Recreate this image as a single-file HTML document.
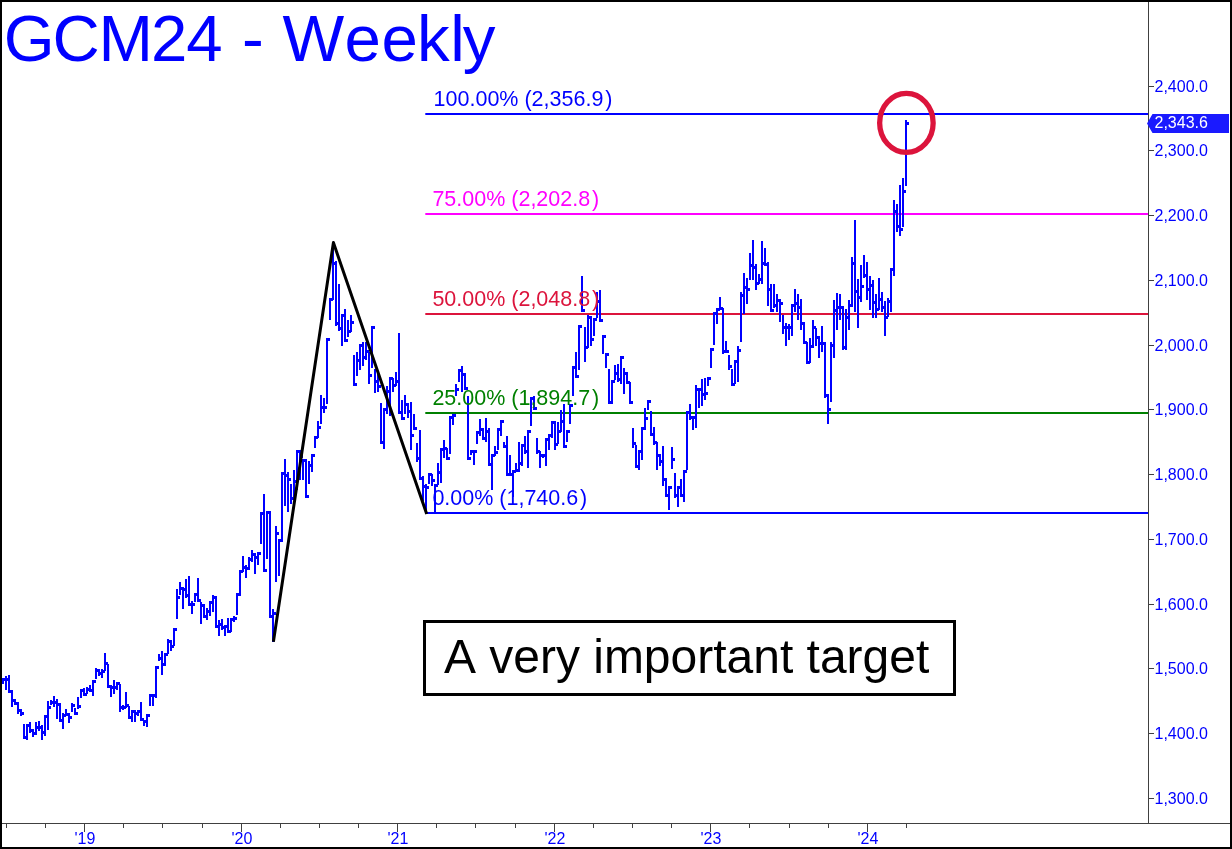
<!DOCTYPE html>
<html><head><meta charset="utf-8"><title>GCM24 - Weekly</title>
<style>
html,body{margin:0;padding:0;background:#fff;}
svg{display:block;}
text{font-family:"Liberation Sans",sans-serif;font-kerning:none;}
.t{font-size:65.4px;fill:#0000ff;}
.f{font-size:21.5px;}
.a{font-size:16px;fill:#0000ff;}
.n{font-size:48px;fill:#000;}
</style></head><body>
<svg width="1232" height="849" viewBox="0 0 1232 849">
<rect x="0" y="0" width="1232" height="849" fill="#fff"/>
<text x="3.7 52.4 98.5 150.9 186.2 222 242 262 282.4 344.4 381.4 417 450.2 462.8" y="61" class="t">GCM24 - Weekly</text>
<rect x="425.3" y="113" width="722.7" height="2" fill="#0000ff"/><rect x="425.3" y="213" width="722.7" height="2" fill="#ff00ff"/><rect x="425.3" y="313" width="722.7" height="2" fill="#dc143c"/><rect x="425.3" y="412" width="722.7" height="2" fill="#008000"/><rect x="425.3" y="512" width="722.7" height="2" fill="#0000ff"/>
<path fill="#0000ff" d="M2 678h2V684h-2zM4 678h2v3h-2zM5 676h2V690h-2zM7 678h2v3h-2zM8 675h2V693h-2zM10 690h2v3h-2zM11 690h2V707h-2zM13 699h2v3h-2zM14 699h2V705h-2zM16 702h2v3h-2zM17 702h2V714h-2zM19 709h2v3h-2zM20 709h2V716h-2zM22 712h2v3h-2zM23 724h2V739h-2zM25 736h2v3h-2zM26 724h2V740h-2zM28 724h2v3h-2zM29 722h2V733h-2zM31 729h2v3h-2zM32 729h2V737h-2zM34 732h2v3h-2zM35 722h2V735h-2zM37 726h2v3h-2zM38 721h2V731h-2zM40 726h2v3h-2zM41 725h2V740h-2zM43 731h2v3h-2zM44 715h2V736h-2zM46 715h2v3h-2zM47 701h2V730h-2zM49 706h2v3h-2zM50 700h2V705h-2zM52 701h2v3h-2zM53 696h2V707h-2zM55 701h2v3h-2zM56 699h2V719h-2zM58 703h2v3h-2zM59 703h2V722h-2zM61 719h2v3h-2zM62 713h2V729h-2zM64 714h2v3h-2zM65 709h2V716h-2zM67 713h2v3h-2zM68 713h2V723h-2zM70 716h2v3h-2zM71 703h2V712h-2zM73 704h2v3h-2zM74 708h2V715h-2zM76 712h2v3h-2zM77 697h2V709h-2zM79 705h2v3h-2zM80 689h2V698h-2zM82 689h2v3h-2zM83 688h2V696h-2zM85 693h2v3h-2zM86 687h2V694h-2zM88 688h2v3h-2zM89 685h2V692h-2zM91 689h2v3h-2zM92 680h2V696h-2zM94 680h2v3h-2zM95 668h2V679h-2zM97 669h2v3h-2zM98 669h2V676h-2zM100 672h2v3h-2zM101 669h2V678h-2zM103 670h2v3h-2zM104 653h2V671h-2zM106 662h2v3h-2zM107 664h2V688h-2zM109 685h2v3h-2zM110 685h2V697h-2zM112 686h2v3h-2zM113 680h2V694h-2zM115 686h2v3h-2zM116 682h2V690h-2zM118 682h2v3h-2zM119 684h2V712h-2zM121 706h2v3h-2zM122 705h2V710h-2zM124 706h2v3h-2zM125 692h2V708h-2zM127 704h2v3h-2zM128 706h2V719h-2zM130 716h2v3h-2zM131 710h2V722h-2zM133 710h2v3h-2zM134 710h2V722h-2zM136 712h2v3h-2zM137 710h2V716h-2zM139 710h2v3h-2zM140 702h2V721h-2zM142 718h2v3h-2zM143 720h2V726h-2zM145 720h2v3h-2zM146 714h2V727h-2zM148 714h2v3h-2zM149 694h2V706h-2zM151 694h2v3h-2zM152 694h2V706h-2zM154 694h2v3h-2zM155 666h2V698h-2zM157 666h2v3h-2zM158 654h2V661h-2zM160 657h2v3h-2zM161 651h2V675h-2zM163 663h2v3h-2zM164 653h2V666h-2zM166 653h2v3h-2zM167 639h2V654h-2zM169 640h2v3h-2zM170 640h2V651h-2zM172 645h2v3h-2zM173 628h2V646h-2zM175 628h2v3h-2zM176 589h2V619h-2zM178 596h2v3h-2zM179 582h2V595h-2zM181 587h2v3h-2zM182 587h2V609h-2zM184 588h2v3h-2zM185 579h2V598h-2zM187 594h2v3h-2zM188 576h2V606h-2zM190 603h2v3h-2zM191 601h2V614h-2zM193 603h2v3h-2zM194 593h2V602h-2zM196 593h2v3h-2zM197 578h2V602h-2zM199 599h2v3h-2zM200 602h2V624h-2zM202 604h2v3h-2zM203 604h2V618h-2zM205 615h2v3h-2zM206 608h2V620h-2zM208 610h2v3h-2zM209 601h2V616h-2zM211 601h2v3h-2zM212 595h2V612h-2zM214 596h2v3h-2zM215 596h2V628h-2zM217 625h2v3h-2zM218 620h2V636h-2zM220 623h2v3h-2zM221 619h2V630h-2zM223 626h2v3h-2zM224 625h2V636h-2zM226 625h2v3h-2zM227 618h2V633h-2zM229 630h2v3h-2zM230 618h2V632h-2zM232 618h2v3h-2zM233 616h2V622h-2zM235 617h2v3h-2zM236 593h2V615h-2zM238 593h2v3h-2zM239 570h2V596h-2zM241 570h2v3h-2zM242 556h2V572h-2zM244 566h2v3h-2zM245 565h2V578h-2zM247 567h2v3h-2zM248 557h2V570h-2zM250 558h2v3h-2zM251 550h2V562h-2zM253 553h2v3h-2zM254 553h2V574h-2zM256 556h2v3h-2zM257 552h2V565h-2zM259 552h2v3h-2zM260 512h2V544h-2zM262 512h2v3h-2zM263 494h2V572h-2zM265 569h2v3h-2zM266 511h2V559h-2zM268 511h2v3h-2zM269 511h2V618h-2zM271 615h2v3h-2zM272 609h2V642h-2zM274 612h2v3h-2zM275 526h2V582h-2zM277 532h2v3h-2zM278 539h2V576h-2zM280 539h2v3h-2zM281 472h2V542h-2zM283 472h2v3h-2zM284 459h2V506h-2zM286 474h2v3h-2zM287 472h2V512h-2zM289 478h2v3h-2zM290 484h2V504h-2zM292 497h2v3h-2zM293 470h2V500h-2zM295 480h2v3h-2zM296 450h2V490h-2zM298 450h2v3h-2zM299 450h2V480h-2zM301 455h2v3h-2zM302 459h2V480h-2zM304 459h2v3h-2zM305 459h2V498h-2zM307 495h2v3h-2zM308 461h2V484h-2zM310 464h2v3h-2zM311 454h2V472h-2zM313 454h2v3h-2zM314 436h2V448h-2zM316 436h2v3h-2zM317 421h2V438h-2zM319 426h2v3h-2zM320 395h2V424h-2zM322 406h2v3h-2zM323 398h2V413h-2zM325 406h2v3h-2zM326 338h2V404h-2zM328 338h2v3h-2zM329 298h2V320h-2zM331 298h2v3h-2zM332 242h2V300h-2zM334 262h2v3h-2zM335 261h2V326h-2zM337 322h2v3h-2zM338 284h2V331h-2zM340 327h2v3h-2zM341 314h2V346h-2zM343 314h2v3h-2zM344 309h2V342h-2zM346 339h2v3h-2zM347 320h2V337h-2zM349 330h2v3h-2zM350 315h2V332h-2zM352 321h2v3h-2zM353 355h2V386h-2zM355 383h2v3h-2zM356 352h2V376h-2zM358 359h2v3h-2zM359 344h2V370h-2zM361 344h2v3h-2zM362 342h2V366h-2zM364 356h2v3h-2zM365 342h2V360h-2zM367 350h2v3h-2zM368 352h2V384h-2zM370 374h2v3h-2zM371 326h2V368h-2zM373 326h2v3h-2zM374 369h2V393h-2zM376 380h2v3h-2zM377 372h2V392h-2zM379 385h2v3h-2zM380 403h2V444h-2zM382 441h2v3h-2zM383 408h2V449h-2zM385 408h2v3h-2zM386 386h2V414h-2zM388 390h2v3h-2zM389 377h2V416h-2zM391 377h2v3h-2zM392 378h2V392h-2zM394 384h2v3h-2zM395 372h2V386h-2zM397 380h2v3h-2zM398 333h2V414h-2zM400 411h2v3h-2zM401 400h2V420h-2zM403 417h2v3h-2zM404 395h2V414h-2zM406 403h2v3h-2zM407 403h2V418h-2zM409 410h2v3h-2zM410 402h2V450h-2zM412 434h2v3h-2zM413 414h2V430h-2zM415 427h2v3h-2zM416 443h2V462h-2zM418 457h2v3h-2zM419 430h2V480h-2zM421 477h2v3h-2zM422 476h2V501h-2zM424 485h2v3h-2zM425 484h2V513h-2zM427 486h2v3h-2zM428 473h2V484h-2zM430 473h2v3h-2zM431 474h2V486h-2zM433 479h2v3h-2zM434 484h2V513h-2zM436 484h2v3h-2zM437 463h2V485h-2zM439 471h2v3h-2zM440 448h2V483h-2zM442 448h2v3h-2zM443 440h2V458h-2zM445 447h2v3h-2zM446 448h2V460h-2zM448 457h2v3h-2zM449 416h2V454h-2zM451 416h2v3h-2zM452 414h2V425h-2zM454 414h2v3h-2zM455 384h2V396h-2zM457 388h2v3h-2zM458 369h2V382h-2zM460 369h2v3h-2zM461 366h2V392h-2zM463 373h2v3h-2zM464 373h2V390h-2zM466 387h2v3h-2zM467 396h2V460h-2zM469 457h2v3h-2zM470 450h2V455h-2zM472 450h2v3h-2zM473 450h2V465h-2zM475 450h2v3h-2zM476 431h2V444h-2zM478 431h2v3h-2zM479 419h2V436h-2zM481 428h2v3h-2zM482 428h2V440h-2zM484 437h2v3h-2zM485 418h2V442h-2zM487 430h2v3h-2zM488 428h2V466h-2zM490 463h2v3h-2zM491 454h2V490h-2zM493 454h2v3h-2zM494 446h2V456h-2zM496 451h2v3h-2zM497 428h2V450h-2zM499 428h2v3h-2zM500 420h2V436h-2zM502 420h2v3h-2zM503 442h2V448h-2zM505 445h2v3h-2zM506 436h2V476h-2zM508 473h2v3h-2zM509 455h2V476h-2zM511 473h2v3h-2zM512 470h2V497h-2zM514 470h2v3h-2zM515 463h2V472h-2zM517 469h2v3h-2zM518 442h2V472h-2zM520 462h2v3h-2zM521 444h2V466h-2zM523 444h2v3h-2zM524 436h2V454h-2zM526 450h2v3h-2zM527 430h2V468h-2zM529 430h2v3h-2zM530 397h2V426h-2zM532 397h2v3h-2zM533 396h2V410h-2zM535 407h2v3h-2zM536 438h2V454h-2zM538 450h2v3h-2zM539 451h2V468h-2zM541 454h2v3h-2zM542 454h2V458h-2zM544 454h2v3h-2zM545 438h2V466h-2zM547 438h2v3h-2zM548 434h2V450h-2zM550 434h2v3h-2zM551 421h2V438h-2zM553 421h2v3h-2zM554 421h2V450h-2zM556 443h2v3h-2zM557 422h2V444h-2zM559 430h2v3h-2zM560 410h2V432h-2zM562 420h2v3h-2zM563 404h2V448h-2zM565 445h2v3h-2zM566 430h2V442h-2zM568 430h2v3h-2zM569 404h2V424h-2zM571 404h2v3h-2zM572 366h2V396h-2zM574 366h2v3h-2zM575 352h2V378h-2zM577 375h2v3h-2zM578 325h2V370h-2zM580 325h2v3h-2zM581 276h2V312h-2zM583 309h2v3h-2zM584 327h2V362h-2zM586 346h2v3h-2zM587 315h2V348h-2zM589 316h2v3h-2zM590 316h2V346h-2zM592 338h2v3h-2zM593 318h2V336h-2zM595 318h2v3h-2zM596 292h2V318h-2zM598 300h2v3h-2zM599 290h2V322h-2zM601 319h2v3h-2zM602 335h2V354h-2zM604 335h2v3h-2zM605 353h2V368h-2zM607 353h2v3h-2zM608 369h2V404h-2zM610 401h2v3h-2zM611 380h2V404h-2zM613 380h2v3h-2zM614 365h2V380h-2zM616 372h2v3h-2zM617 364h2V382h-2zM619 378h2v3h-2zM620 356h2V384h-2zM622 356h2v3h-2zM623 368h2V394h-2zM625 372h2v3h-2zM626 372h2V384h-2zM628 381h2v3h-2zM629 382h2V404h-2zM631 401h2v3h-2zM632 428h2V448h-2zM634 442h2v3h-2zM635 445h2V468h-2zM637 465h2v3h-2zM638 450h2V470h-2zM640 450h2v3h-2zM641 427h2V460h-2zM643 427h2v3h-2zM644 408h2V430h-2zM646 417h2v3h-2zM647 400h2V410h-2zM649 400h2v3h-2zM650 411h2V436h-2zM652 433h2v3h-2zM653 427h2V445h-2zM655 441h2v3h-2zM656 442h2V470h-2zM658 454h2v3h-2zM659 454h2V466h-2zM661 460h2v3h-2zM662 446h2V486h-2zM664 478h2v3h-2zM665 478h2V497h-2zM667 494h2v3h-2zM668 486h2V510h-2zM670 486h2v3h-2zM671 447h2V469h-2zM673 458h2v3h-2zM674 473h2V498h-2zM676 494h2v3h-2zM677 486h2V507h-2zM679 486h2v3h-2zM680 479h2V497h-2zM682 494h2v3h-2zM683 470h2V502h-2zM685 470h2v3h-2zM686 411h2V470h-2zM688 411h2v3h-2zM689 404h2V420h-2zM691 416h2v3h-2zM692 416h2V430h-2zM694 416h2v3h-2zM695 385h2V428h-2zM697 388h2v3h-2zM698 388h2V408h-2zM700 388h2v3h-2zM701 379h2V406h-2zM703 393h2v3h-2zM704 378h2V400h-2zM706 392h2v3h-2zM707 377h2V386h-2zM709 377h2v3h-2zM710 348h2V368h-2zM712 348h2v3h-2zM713 312h2V345h-2zM715 312h2v3h-2zM716 308h2V324h-2zM718 308h2v3h-2zM719 297h2V310h-2zM721 307h2v3h-2zM722 308h2V354h-2zM724 350h2v3h-2zM725 341h2V353h-2zM727 350h2v3h-2zM728 355h2V370h-2zM730 365h2v3h-2zM731 369h2V386h-2zM733 383h2v3h-2zM734 360h2V384h-2zM736 360h2v3h-2zM737 346h2V382h-2zM739 349h2v3h-2zM740 292h2V342h-2zM742 294h2v3h-2zM743 273h2V314h-2zM745 286h2v3h-2zM746 278h2V304h-2zM748 288h2v3h-2zM749 253h2V280h-2zM751 264h2v3h-2zM752 240h2V280h-2zM754 266h2v3h-2zM755 264h2V290h-2zM757 282h2v3h-2zM758 274h2V284h-2zM760 278h2v3h-2zM761 241h2V284h-2zM763 262h2v3h-2zM764 248h2V266h-2zM766 263h2v3h-2zM767 262h2V306h-2zM769 288h2v3h-2zM770 284h2V312h-2zM772 309h2v3h-2zM773 284h2V308h-2zM775 304h2v3h-2zM776 294h2V312h-2zM778 299h2v3h-2zM779 299h2V322h-2zM781 302h2v3h-2zM782 315h2V334h-2zM784 326h2v3h-2zM785 323h2V346h-2zM787 326h2v3h-2zM788 324h2V340h-2zM790 326h2v3h-2zM791 304h2V336h-2zM793 304h2v3h-2zM794 289h2V312h-2zM796 302h2v3h-2zM797 294h2V320h-2zM799 306h2v3h-2zM800 299h2V330h-2zM802 322h2v3h-2zM803 322h2V344h-2zM805 341h2v3h-2zM806 342h2V364h-2zM808 361h2v3h-2zM809 338h2V363h-2zM811 345h2v3h-2zM812 320h2V348h-2zM814 326h2v3h-2zM815 328h2V346h-2zM817 336h2v3h-2zM818 336h2V358h-2zM820 342h2v3h-2zM821 326h2V352h-2zM823 342h2v3h-2zM824 342h2V398h-2zM826 394h2v3h-2zM827 394h2V424h-2zM829 408h2v3h-2zM830 342h2V402h-2zM832 344h2v3h-2zM833 300h2V358h-2zM835 309h2v3h-2zM836 293h2V330h-2zM838 306h2v3h-2zM839 294h2V320h-2zM841 306h2v3h-2zM842 306h2V350h-2zM844 346h2v3h-2zM845 309h2V350h-2zM847 316h2v3h-2zM848 300h2V330h-2zM850 304h2v3h-2zM851 257h2V307h-2zM853 262h2v3h-2zM854 220h2V312h-2zM856 290h2v3h-2zM857 279h2V328h-2zM859 296h2v3h-2zM860 265h2V302h-2zM862 285h2v3h-2zM863 255h2V278h-2zM865 274h2v3h-2zM866 262h2V300h-2zM868 288h2v3h-2zM869 276h2V310h-2zM871 284h2v3h-2zM872 280h2V318h-2zM874 301h2v3h-2zM875 294h2V318h-2zM877 308h2v3h-2zM878 278h2V310h-2zM880 298h2v3h-2zM881 292h2V312h-2zM883 306h2v3h-2zM884 301h2V336h-2zM886 316h2v3h-2zM887 298h2V317h-2zM889 300h2v3h-2zM890 268h2V312h-2zM892 268h2v3h-2zM893 200h2V276h-2zM895 210h2v3h-2zM896 204h2V232h-2zM898 225h2v3h-2zM899 185h2V236h-2zM901 228h2v3h-2zM902 178h2V227h-2zM904 190h2v3h-2zM905 120h2V186h-2zM907 122h2v3h-2z"/>
<text x="433.6" y="105.8" fill="#0000ff" class="f">100.00% (2,356.9<tspan dx="1.8">)</tspan></text><text x="432.4" y="205.8" fill="#ff00ff" class="f">75.00% (2,202.8<tspan dx="1.8">)</tspan></text><text x="432.4" y="305.8" fill="#dc143c" class="f">50.00% (2,048.8<tspan dx="1.8">)</tspan></text><text x="432.4" y="404.8" fill="#008000" class="f">25.00% (1,894.7<tspan dx="1.8">)</tspan></text><text x="432.4" y="504.8" fill="#0000ff" class="f">0.00% (1,740.6<tspan dx="1.8">)</tspan></text>
<polyline points="273.4,641.8 333.4,242.6 426.7,514" fill="none" stroke="#000" stroke-width="3" stroke-linejoin="round"/>
<ellipse cx="906.4" cy="122.9" rx="26.75" ry="29.45" fill="none" stroke="#dc143c" stroke-width="5.3"/>
<rect x="1148" y="2" width="1" height="822" fill="#404040"/>
<rect x="2" y="823" width="1228" height="1" fill="#404040"/>
<rect x="1149" y="798" width="5" height="1" fill="#404040"/><text x="1154.5" y="804" class="a">1,300.0</text><rect x="1149" y="733" width="5" height="1" fill="#404040"/><text x="1154.5" y="739" class="a">1,400.0</text><rect x="1149" y="668" width="5" height="1" fill="#404040"/><text x="1154.5" y="674" class="a">1,500.0</text><rect x="1149" y="604" width="5" height="1" fill="#404040"/><text x="1154.5" y="610" class="a">1,600.0</text><rect x="1149" y="539" width="5" height="1" fill="#404040"/><text x="1154.5" y="545" class="a">1,700.0</text><rect x="1149" y="474" width="5" height="1" fill="#404040"/><text x="1154.5" y="480" class="a">1,800.0</text><rect x="1149" y="409" width="5" height="1" fill="#404040"/><text x="1154.5" y="415" class="a">1,900.0</text><rect x="1149" y="345" width="5" height="1" fill="#404040"/><text x="1154.5" y="351" class="a">2,000.0</text><rect x="1149" y="280" width="5" height="1" fill="#404040"/><text x="1154.5" y="286" class="a">2,100.0</text><rect x="1149" y="215" width="5" height="1" fill="#404040"/><text x="1154.5" y="221" class="a">2,200.0</text><rect x="1149" y="150" width="5" height="1" fill="#404040"/><text x="1154.5" y="156" class="a">2,300.0</text><rect x="1149" y="86" width="5" height="1" fill="#404040"/><text x="1154.5" y="92" class="a">2,400.0</text>
<rect x="6" y="824" width="1" height="4" fill="#404040"/><rect x="45" y="824" width="1" height="4" fill="#404040"/><rect x="84" y="824" width="1" height="8" fill="#404040"/><text x="85" y="844.4" class="a" text-anchor="middle">'19</text><rect x="123" y="824" width="1" height="4" fill="#404040"/><rect x="162" y="824" width="1" height="4" fill="#404040"/><rect x="202" y="824" width="1" height="4" fill="#404040"/><rect x="241" y="824" width="1" height="8" fill="#404040"/><text x="242" y="844.4" class="a" text-anchor="middle">'20</text><rect x="280" y="824" width="1" height="4" fill="#404040"/><rect x="319" y="824" width="1" height="4" fill="#404040"/><rect x="358" y="824" width="1" height="4" fill="#404040"/><rect x="397" y="824" width="1" height="8" fill="#404040"/><text x="398" y="844.4" class="a" text-anchor="middle">'21</text><rect x="436" y="824" width="1" height="4" fill="#404040"/><rect x="475" y="824" width="1" height="4" fill="#404040"/><rect x="515" y="824" width="1" height="4" fill="#404040"/><rect x="554" y="824" width="1" height="8" fill="#404040"/><text x="555" y="844.4" class="a" text-anchor="middle">'22</text><rect x="593" y="824" width="1" height="4" fill="#404040"/><rect x="632" y="824" width="1" height="4" fill="#404040"/><rect x="671" y="824" width="1" height="4" fill="#404040"/><rect x="710" y="824" width="1" height="8" fill="#404040"/><text x="711" y="844.4" class="a" text-anchor="middle">'23</text><rect x="749" y="824" width="1" height="4" fill="#404040"/><rect x="789" y="824" width="1" height="4" fill="#404040"/><rect x="828" y="824" width="1" height="4" fill="#404040"/><rect x="867" y="824" width="1" height="8" fill="#404040"/><text x="868" y="844.4" class="a" text-anchor="middle">'24</text><rect x="906" y="824" width="1" height="4" fill="#404040"/>
<path d="M1147 123.5l5.5-9.5h76.500v19h-76.500z" fill="#1a1aff"/>
<text x="1154.5" y="127.9" style="font-size:16px;fill:#fff">2,343.6</text>
<rect x="424.500" y="621.5" width="530" height="73" fill="#fff" stroke="#000" stroke-width="3"/>
<text transform="translate(443.9,673) scale(1,1.02)" class="n">A very important target</text>
<path d="M0 0H1232V849H0z M2 2V847H1230V2z" fill="#000" fill-rule="evenodd"/>
</svg>
</body></html>
